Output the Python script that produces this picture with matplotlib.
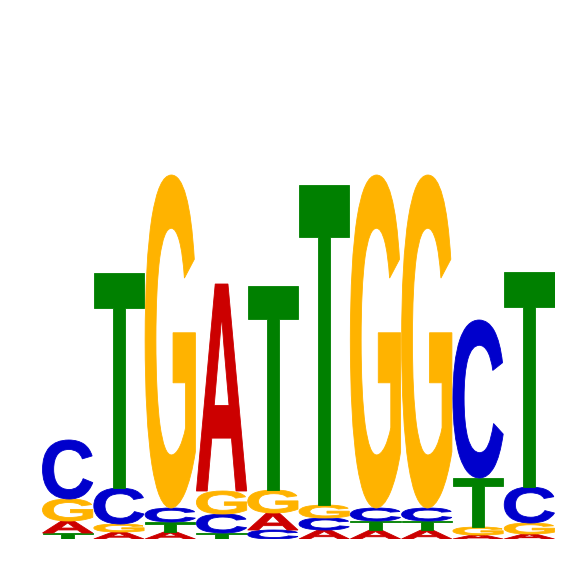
import numpy as np
import matplotlib
matplotlib.use("Agg")
import matplotlib.pyplot as plt
from matplotlib.textpath import TextPath
from matplotlib.patches import PathPatch
from matplotlib.font_manager import FontProperties
from matplotlib.transforms import Affine2D

# information content (bits) of each base at each of the 10 positions
POSITIONS = list(range(1, 11))
A_BITS = [0.060, 0.035, 0.035, 1.035, 0.085, 0.045, 0.044, 0.044, 0.020, 0.025]
C_BITS = [0.295, 0.180, 0.070, 0.095, 0.045, 0.060, 0.065, 0.065, 0.790, 0.180]
G_BITS = [0.110, 0.040, 1.665, 0.115, 0.115, 0.065, 1.665, 1.665, 0.040, 0.055]
T_BITS = [0.030, 1.075, 0.050, 0.030, 1.020, 1.600, 0.046, 0.046, 0.245, 1.075]

COLORS = {"A": "#CC0000", "C": "#0000CC", "G": "#FFB300", "T": "#008000"}
FONT = FontProperties(family="Liberation Sans", weight="bold")


def draw_letter(ax, letter, x_left, y_bottom, width, height):
    path = TextPath((0, 0), letter, size=1, prop=FONT)
    ext = path.get_extents()
    tr = (Affine2D()
          .translate(-ext.x0, -ext.y0)
          .scale(width / ext.width, height / ext.height)
          .translate(x_left, y_bottom))
    # thin same-colour outline makes the strokes a bit heavier, like the original
    ax.add_patch(PathPatch(tr.transform_path(path), facecolor=COLORS[letter],
                           edgecolor=COLORS[letter], linewidth=0.6))


fig = plt.figure(figsize=(5.66, 5.66), dpi=100)
ax = fig.add_axes([0.0742, 0.0477, 0.9064, 0.7067])
ax.set_xlim(0.5, 10.5)
ax.set_ylim(0, 2.0)
ax.axis("off")

for i, pos in enumerate(POSITIONS):
    heights = {"A": A_BITS[i], "C": C_BITS[i], "G": G_BITS[i], "T": T_BITS[i]}
    y = 0.0
    for letter in sorted(heights, key=lambda k: heights[k]):
        h = heights[letter]
        draw_letter(ax, letter, pos - 0.49, y, 0.98, h)
        y += h

fig.savefig("out.png", dpi=100)
